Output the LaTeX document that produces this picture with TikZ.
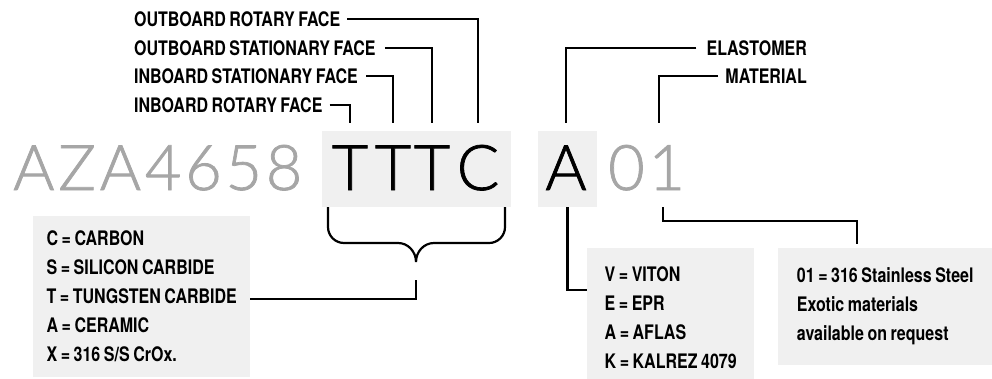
\documentclass[tikz,border=0pt]{standalone}
\usepackage{fontspec}
\setmainfont{TeX Gyre Heros}
\newfontfamily\lblfont{TeX Gyre Heros}[FakeStretch=0.8, WordSpace=0.8]
\newfontfamily\codefont{Lato Light}[FakeBold=1.2, LetterSpace=6]
\definecolor{codegray}{RGB}{166,166,166}
\definecolor{boxfill}{RGB}{240,240,240}
\tikzset{
  lbl/.style={font=\lblfont\bfseries\fontsize{20}{29}\selectfont, inner sep=0pt, text height=14.4pt, text depth=0pt},
  opts/.style={fill=boxfill, font=\lblfont\bfseries\fontsize{20}{29}\selectfont, align=left, anchor=north west, inner sep=0pt},
  code/.style={font=\codefont\fontsize{63}{63}\selectfont, inner sep=0pt, text height=45pt, text depth=0pt, anchor=base},
  codebox/.style={fill=boxfill, inner sep=0pt},
  wire/.style={line width=2.2pt}
}
\begin{document}
\begin{tikzpicture}[x=1pt,y=-1pt]
\useasboundingbox (0,0) rectangle (992,378);
% shaded code boxes
\node[codebox, minimum width=189pt, minimum height=76pt] (facebox) at (416.5,169) {};
\node[codebox, minimum width=59pt, minimum height=76pt] (elbox) at (567.5,169) {};
% part number
\node[code, text=codegray, anchor=base west] (pre) at (13,190) {AZA4658};
\node[code] (f1) at (350,190) {T};
\node[code] (f2) at (393,190) {T};
\node[code] (f3) at (432,190) {T};
\node[code] (f4) at (478,190) {C};
\node[code] (el) at (566,190) {A};
\node[code, text=codegray, anchor=base west] (mat) at (608,190) {01};
\coordinate (matup) at (659,123);
\coordinate (matdn) at (663,207);
% labels
\node[lbl, anchor=base west] (orf) at (134,26) {OUTBOARD ROTARY FACE};
\node[lbl, anchor=base west] (osf) at (134,55) {OUTBOARD STATIONARY FACE};
\node[lbl, anchor=base west] (isf) at (134,83.5) {INBOARD STATIONARY FACE};
\node[lbl, anchor=base west] (irf) at (134,112) {INBOARD ROTARY FACE};
\node[lbl, anchor=base east] (elast) at (807,55) {ELASTOMER};
\node[lbl, anchor=base east] (matl) at (807,83.5) {MATERIAL};
\draw[wire] ([xshift=7pt]irf.east) -| ([yshift=22pt]f1.north);
\draw[wire] ([xshift=8pt]isf.east) -| ([yshift=22pt]f2.north);
\draw[wire] ([xshift=9pt]osf.east) -| ([yshift=22pt]f3.north);
\draw[wire] ([xshift=7pt]orf.east) -| ([yshift=22pt]f4.north);
\draw[wire] ([xshift=-10pt]elast.west) -| ([yshift=22pt]el.north);
\draw[wire] ([xshift=-7pt]matl.west) -| (matup);
% option boxes
\node[opts, minimum width=217pt, minimum height=161pt] (faceopts) at (33,216)
  {C = CARBON\\S = SILICON CARBIDE\\T = TUNGSTEN CARBIDE\\A = CERAMIC\\X = 316 S/S CrOx.};
\node[opts, minimum width=167pt, minimum height=138pt] (elopts) at (587,248)
  {V = VITON\\E = EPR\\A = AFLAS\\K = KALREZ 4079};
\node[opts, minimum width=214pt, minimum height=117pt] (matopts) at (778,248)
  {01 = 316 Stainless Steel\\Exotic materials\\available on request};
% brace under the faces
\draw[wire] (328,207) -- (328,227) to[out=-90,in=180] (344,243) -- (398,243)
  to[out=0,in=90] (416,262) to[out=90,in=180] (434,243) -- (489,243)
  to[out=0,in=-90] (505,227) -- (505,207);
\coordinate (brace) at (416,280);
\draw[wire] (brace) |- ([yshift=-2.5pt]faceopts.east);
\draw[wire] (elbox.south) |- (elopts.west |- 0,290);
\draw[wire] (matdn) -- ++(0,14) -| ([shift={(-28pt,4pt)}]matopts.north);
\end{tikzpicture}
\end{document}
